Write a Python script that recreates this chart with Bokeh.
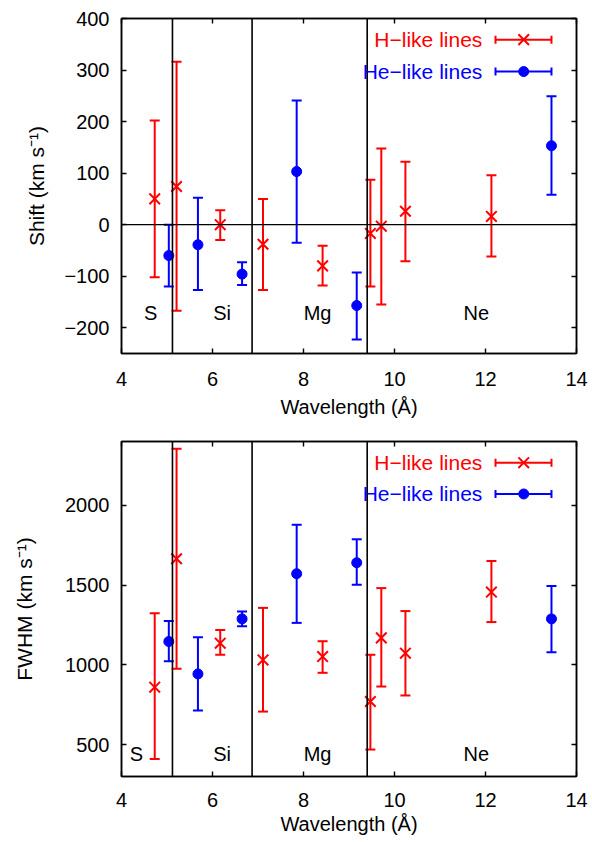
from bokeh.plotting import figure
from bokeh.models import (Range1d, LinearAxis, FixedTicker, Span, Label, Whisker,
                          TeeHead, ColumnDataSource)
from bokeh.layouts import column
from bokeh.embed import file_html
from bokeh.resources import INLINE

# ---------------- data ----------------
wl_h = [4.73, 5.21, 6.17, 7.11, 8.42, 9.47, 9.71, 10.24, 12.13]
wl_he = [5.04, 5.68, 6.65, 7.85, 9.17, 13.45]

shift_h = [50, 74, 0, -38, -80, -17, -3, 26, 16]
shift_h_up = [202, 316, 28, 50, -41, 87, 148, 122, 96]
shift_h_lo = [-102, -167, -30, -127, -118, -120, -155, -71, -62]
shift_he = [-60, -39, -96, 103, -157, 153]
shift_he_up = [0, 52, -73, 241, -93, 249]
shift_he_lo = [-120, -127, -117, -35, -223, 58]

fwhm_h = [860, 1665, 1136, 1031, 1052, 770, 1169, 1073, 1456]
fwhm_h_up = [1324, 2355, 1219, 1357, 1148, 1063, 1481, 1337, 1651]
fwhm_h_lo = [410, 975, 1063, 707, 950, 469, 864, 808, 1268]
fwhm_he = [1146, 943, 1288, 1571, 1640, 1288]
fwhm_he_up = [1274, 1173, 1335, 1878, 1787, 1494]
fwhm_he_lo = [1023, 713, 1242, 1263, 1502, 1079]

x_ticks = [4, 6, 8, 10, 12, 14]
shift_ticks = [-200, -100, 0, 100, 200, 300, 400]
fwhm_ticks = [500, 1000, 1500, 2000]

boundaries = [5.12, 6.87, 9.40]
elements = ["S", "Si", "Mg", "Ne"]
legend_labels = ["H\u2212like lines", "He\u2212like lines"]

RED = "#ff0000"
BLUE = "#0000ff"
FONT = "Liberation Sans"


def style_axis(ax, ticks, show_labels):
    ax.ticker = FixedTicker(ticks=ticks)
    ax.minor_tick_line_color = None
    ax.major_tick_in = 5
    ax.major_tick_out = 0
    ax.major_tick_line_width = 1.4
    ax.major_tick_line_color = "black"
    ax.axis_line_color = "black"
    ax.axis_line_width = 1.5
    ax.major_label_text_font = FONT
    if show_labels:
        ax.major_label_text_color = "black"
        ax.major_label_text_font_size = "20px"
        ax.major_label_standoff = 12
    else:
        ax.major_label_text_color = None
        ax.major_label_text_font_size = "0px"
        ax.major_label_standoff = 0
    ax.axis_label_text_font = FONT
    ax.axis_label_text_font_size = "20px"
    ax.axis_label_text_font_style = "normal"
    ax.axis_label_text_color = "black"


def make_panel(height, top_border, bottom_border, yr, yticks, ylabel, ylabel_standoff,
               x_standoff, xlabel_standoff,
               yh, yh_up, yh_lo, yhe, yhe_up, yhe_lo,
               elem_x, elem_y, leg_text_x, leg_y, leg_x0, leg_x1, leg_xm, zero_line):
    p = figure(width=590, height=height, x_range=Range1d(4, 14), y_range=Range1d(*yr),
               output_backend="svg", toolbar_location=None,
               min_border_left=121, min_border_right=14,
               min_border_top=top_border, min_border_bottom=bottom_border)
    p.grid.visible = False
    p.outline_line_color = "black"
    p.outline_line_width = 1.5
    p.background_fill_color = "white"
    p.border_fill_color = "white"

    xa = p.below[0]
    ya = p.left[0]
    style_axis(xa, x_ticks, True)
    style_axis(ya, yticks, True)
    xa.major_label_standoff = x_standoff
    xa.axis_label = "Wavelength (\u00c5)"
    xa.axis_label_standoff = xlabel_standoff
    ya.axis_label = ylabel
    ya.axis_label_text_font_size = "21px"
    ya.axis_label_standoff = ylabel_standoff

    top_ax = LinearAxis()
    style_axis(top_ax, x_ticks, False)
    p.add_layout(top_ax, "above")
    right_ax = LinearAxis()
    style_axis(right_ax, yticks, False)
    p.add_layout(right_ax, "right")

    for b in boundaries:
        p.add_layout(Span(location=b, dimension="height", line_color="black", line_width=1.6))
    if zero_line:
        p.add_layout(Span(location=0, dimension="width", line_color="black", line_width=1.4))

    for name, ex in zip(elements, elem_x):
        p.add_layout(Label(x=ex, y=elem_y, text=name, text_font=FONT, text_font_size="20px",
                           text_align="center", text_baseline="middle", text_color="black"))

    src_h = ColumnDataSource(dict(x=wl_h, y=yh, up=yh_up, lo=yh_lo))
    src_he = ColumnDataSource(dict(x=wl_he, y=yhe, up=yhe_up, lo=yhe_lo))

    for src, col in ((src_h, RED), (src_he, BLUE)):
        w = Whisker(source=src, base="x", upper="up", lower="lo", dimension="height",
                    line_color=col, line_width=2,
                    upper_head=TeeHead(size=10, line_color=col, line_width=2),
                    lower_head=TeeHead(size=10, line_color=col, line_width=2))
        p.add_layout(w)

    p.scatter("x", "y", source=src_h, marker="x", size=15, line_color=RED, line_width=2)
    p.scatter("x", "y", source=src_he, marker="circle", size=10, fill_color=BLUE,
              line_color=BLUE)

    # legend (text left of sample, like the original)
    for lab, ly, col, mk in zip(legend_labels, leg_y, (RED, BLUE), ("x", "circle")):
        p.add_layout(Label(x=leg_text_x, y=ly, text=lab, text_font=FONT, text_font_size="21px",
                           text_align="right", text_baseline="middle", text_color=col))
        lsrc = ColumnDataSource(dict(y=[ly], a=[leg_x0], b=[leg_x1], m=[leg_xm]))
        p.add_layout(Whisker(source=lsrc, base="y", lower="a", upper="b", dimension="width",
                             line_color=col, line_width=2,
                             upper_head=TeeHead(size=8, line_color=col, line_width=2),
                             lower_head=TeeHead(size=8, line_color=col, line_width=2)))
        if mk == "x":
            p.scatter("m", "y", source=lsrc, marker="x", size=15, line_color=col, line_width=2)
        else:
            p.scatter("m", "y", source=lsrc, marker="circle", size=10, fill_color=col,
                      line_color=col)
    return p


p1 = make_panel(427, 18, 74, (-250, 400), shift_ticks, "Shift (km s\u207b\u00b9)", 13, 18, 7,
                shift_h, shift_h_up, shift_h_lo, shift_he, shift_he_up, shift_he_lo,
                [4.64, 6.21, 8.31, 11.80], -171, 11.93, [359, 297], 12.22, 13.45, 12.84, True)
p2 = make_panel(415, 14, 66, (300, 2400), fwhm_ticks, "FWHM (km s\u207b\u00b9)", 26, 16, 3,
                fwhm_h, fwhm_h_up, fwhm_h_lo, fwhm_he, fwhm_he_up, fwhm_he_lo,
                [4.33, 6.21, 8.31, 11.80], 441, 11.93, [2267, 2071], 12.22, 13.45, 12.84, False)

layout = column(p1, p2)
open("out.html", "w").write(file_html(layout, INLINE))
